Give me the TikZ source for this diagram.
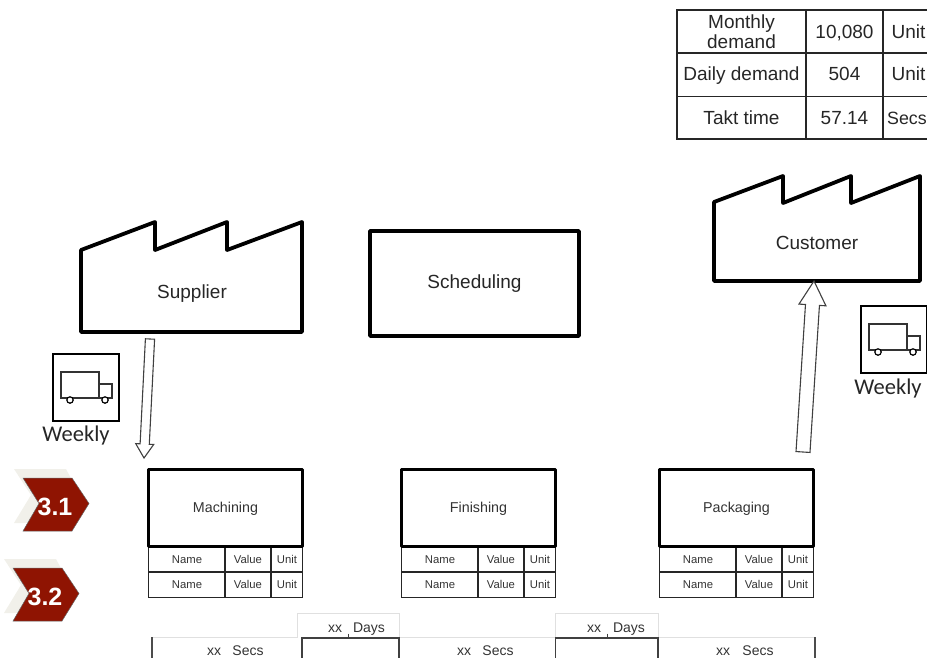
\documentclass[tikz,border=0pt]{standalone}
\usepackage{fontspec}
\setmainfont{Liberation Sans}
\newfontfamily\weeklyfont{Carlito}
\usetikzlibrary{calc}
\definecolor{stepred}{HTML}{8F1402}
\definecolor{stepshadow}{HTML}{F1F0EA}
\definecolor{labelgray}{HTML}{333333}
\newcommand\blockarrow[5]{
  \path ($(#2)!#4!(#1)$) coordinate (neck);
  \draw[flowarrow] ($(#1)!#3!90:(#2)$) -- ($(neck)!#3!90:(#2)$) -- ($(neck)!#5!90:(#2)$) -- (#2)
    -- ($(neck)!#5!-90:(#2)$) -- ($(neck)!#3!-90:(#2)$) -- ($(#1)!#3!-90:(#2)$) -- cycle;
}
\begin{document}
\begin{tikzpicture}[
      x=1pt, y=-1pt,
      thick box/.style={draw=black,line width=3.8pt,line join=round},
      thin grid/.style={draw=black!85,line width=1.3pt},
      pale/.style={draw=black!12,line width=0.8pt},
      flowarrow/.style={draw=black!75,line width=1.1pt,fill=white},
      big/.style={text=black!85,font=\fontsize{19}{21}\selectfont,inner sep=0pt,text height=13.7pt,text depth=0pt},
      process/.style={text=labelgray,font=\fontsize{14.3}{16}\selectfont,inner sep=0pt,text height=10.3pt,text depth=0pt},
      small/.style={text=labelgray,font=\fontsize{11.3}{13}\selectfont,inner sep=0pt,text height=8.1pt,text depth=0pt},
      timing/.style={text=labelgray,font=\fontsize{14}{16}\selectfont,inner sep=0pt,text height=10pt,text depth=0pt},
      weekly/.style={text=black!85,font=\weeklyfont\fontsize{22.5}{24}\selectfont,inner sep=0pt,text height=14.4pt,text depth=0pt},
      steplabel/.style={text=white,font=\bfseries\fontsize{25}{27}\selectfont,inner sep=0pt,text height=18pt,text depth=0pt}
    ]
    \useasboundingbox (0, 0) rectangle (927, 657);

    % demand table
    \draw[thin grid] (677, 10) rectangle (940, 139);
    \draw[thin grid] (677, 53) -- (940, 53) (677, 96.5) -- (940, 96.5);
    \draw[thin grid] (806, 10) -- (806, 139) (883, 10) -- (883, 139);
    \node[text=black!85,font=\fontsize{19}{20.5}\selectfont,align=center,inner sep=0pt] (monthly) at (741.5, 31.5) {Monthly\\demand};
    \node[big] (monthlyvalue) at (844.5, 32) {10,080};
    \node[big,anchor=west] (monthlyunit) at (891.5, 32) {Unit};
    \node[big] (daily) at (741.5, 73.5) {Daily demand};
    \node[big] (dailyvalue) at (844.5, 74) {504};
    \node[big,anchor=west] (dailyunit) at (891.5, 74) {Unit};
    \node[big] (takt) at (741.5, 117.5) {Takt time};
    \node[big] (taktvalue) at (844.5, 117.5) {57.14};
    \node[big,anchor=west,font=\fontsize{17.8}{21}\selectfont] (taktunit) at (887, 117.5) {Secs};

    % factories
    \draw[thick box] (81, 250) -- (155, 222) -- (155, 250) -- (227, 222) -- (227, 250) -- (302, 222) -- (302, 332) -- (81, 332) -- cycle;
    \node[big] (supplier) at (192, 292) {Supplier};
    \draw[thick box] (714, 202) -- (783, 176) -- (783, 203) -- (851, 176) -- (851, 203) -- (920, 176) -- (920, 281) -- (714, 281) -- cycle;
    \node[big] (customer) at (817, 242.5) {Customer};

    \draw[thick box] (370, 231) rectangle (579, 336);
    \node[big] (scheduling) at (474.5, 282) {Scheduling};

    % trucks
    \foreach \id/\dx/\dy in {left/0/0, right/808/-48}{
      \begin{scope}[shift={(\dx, \dy)}]
        \draw[draw=black,line width=1.6pt] (53, 354) rectangle (119, 421);
        \draw[draw=black!80,line width=1.1pt] (61, 372) rectangle (99, 398);
        \draw[draw=black!80,line width=1.1pt] (99, 384) rectangle (112, 398);
        \draw[draw=black,line width=1.2pt,fill=white] (70, 400) circle (3.2);
        \draw[draw=black,line width=1.2pt,fill=white] (105, 400) circle (3.2);
      \end{scope}
    }
    \node[weekly] (weeklyleft) at (76, 434) {Weekly};
    \node[weekly] (weeklyright) at (888, 387) {Weekly};

    % process boxes
    \foreach \name/\label/\dx in {machining/Machining/0, finishing/Finishing/253, packaging/Packaging/511}{
      \begin{scope}[shift={(\dx, 0)}]
        \draw[thin grid,line width=1.1pt] (148.5, 546) rectangle (302.5, 597.5);
        \draw[thin grid,line width=1.1pt] (148.5, 572) -- (302.5, 572);
        \draw[thin grid,line width=1.1pt] (225, 546) -- (225, 597.5) (271, 546) -- (271, 597.5);
        \draw[thick box,line width=3pt] (148.5, 469) rectangle (302.5, 546);
        \node[process] (\name) at (225.5, 507.5) {\label};
        \foreach \row/\y in {top/559.5, bottom/584.5}{
          \node[small] (\name name\row) at (187, \y) {Name};
          \node[small] (\name value\row) at (248, \y) {Value};
          \node[small] (\name unit\row) at (287, \y) {Unit};
        }
      \end{scope}
    }

    % flow arrows
    \coordinate (suppliertail) at (150, 339);
    \coordinate (machiningin) at (144, 458);
    \coordinate (packagingout) at (803, 452);
    \coordinate (customerin) at (814, 281);
    \blockarrow{suppliertail}{machiningin}{4.6pt}{14pt}{9pt}
    \blockarrow{packagingout}{customerin}{7pt}{24pt}{13.5pt}

    % step chevrons
    \foreach \id/\nr/\dx/\dy in {one/3.1/0/0, two/3.2/-10/90}{
      \begin{scope}[shift={(\dx, \dy)}]
        \fill[stepshadow] (14, 469) -- (66, 469) -- (80, 495) -- (66, 523) -- (14, 523) -- (31, 495) -- cycle;
        \draw[draw=black!60,line width=0.5pt,fill=stepred] (23, 478) -- (72, 478) -- (89, 503.5) -- (72, 531) -- (23, 531) -- (39, 503.5) -- cycle;
        \node[steplabel] (step\id) at (55, 506.5) {\nr};
      \end{scope}
    }

    % timeline
    \draw[pale] (152, 637) -- (297, 637) -- (297, 613) -- (399, 613) -- (399, 637) -- (555.5, 637) -- (555.5, 613) -- (658, 613) -- (658, 637) -- (815, 637);
    \draw[draw=black!70,line width=1.2pt] (152, 637) -- (152, 660) (815, 637) -- (815, 660);
    \foreach \id/\left/\tick/\right in {a/302/348/399, b/555.5/607/658}{
      \draw[draw=black!75,line width=1.2pt] (\left, 660) -- (\left, 638) -- (\right, 638) -- (\right, 660);
      \draw[draw=black!75,line width=0.8pt] (\tick, 633.5) -- (\tick, 638);
    }
    \node[timing] (daysxxa) at (335, 627) {xx};
    \node[timing] (daysa) at (369, 627) {Days};
    \node[timing] (daysxxb) at (594, 627) {xx};
    \node[timing] (daysb) at (629, 627) {Days};
    \node[timing] (secsxxa) at (214, 650) {xx};
    \node[timing] (secsa) at (248, 650) {Secs};
    \node[timing] (secsxxb) at (464, 650) {xx};
    \node[timing] (secsb) at (498, 650) {Secs};
    \node[timing] (secsxxc) at (723, 650) {xx};
    \node[timing] (secsc) at (758, 650) {Secs};
  \end{tikzpicture}
\end{document}
